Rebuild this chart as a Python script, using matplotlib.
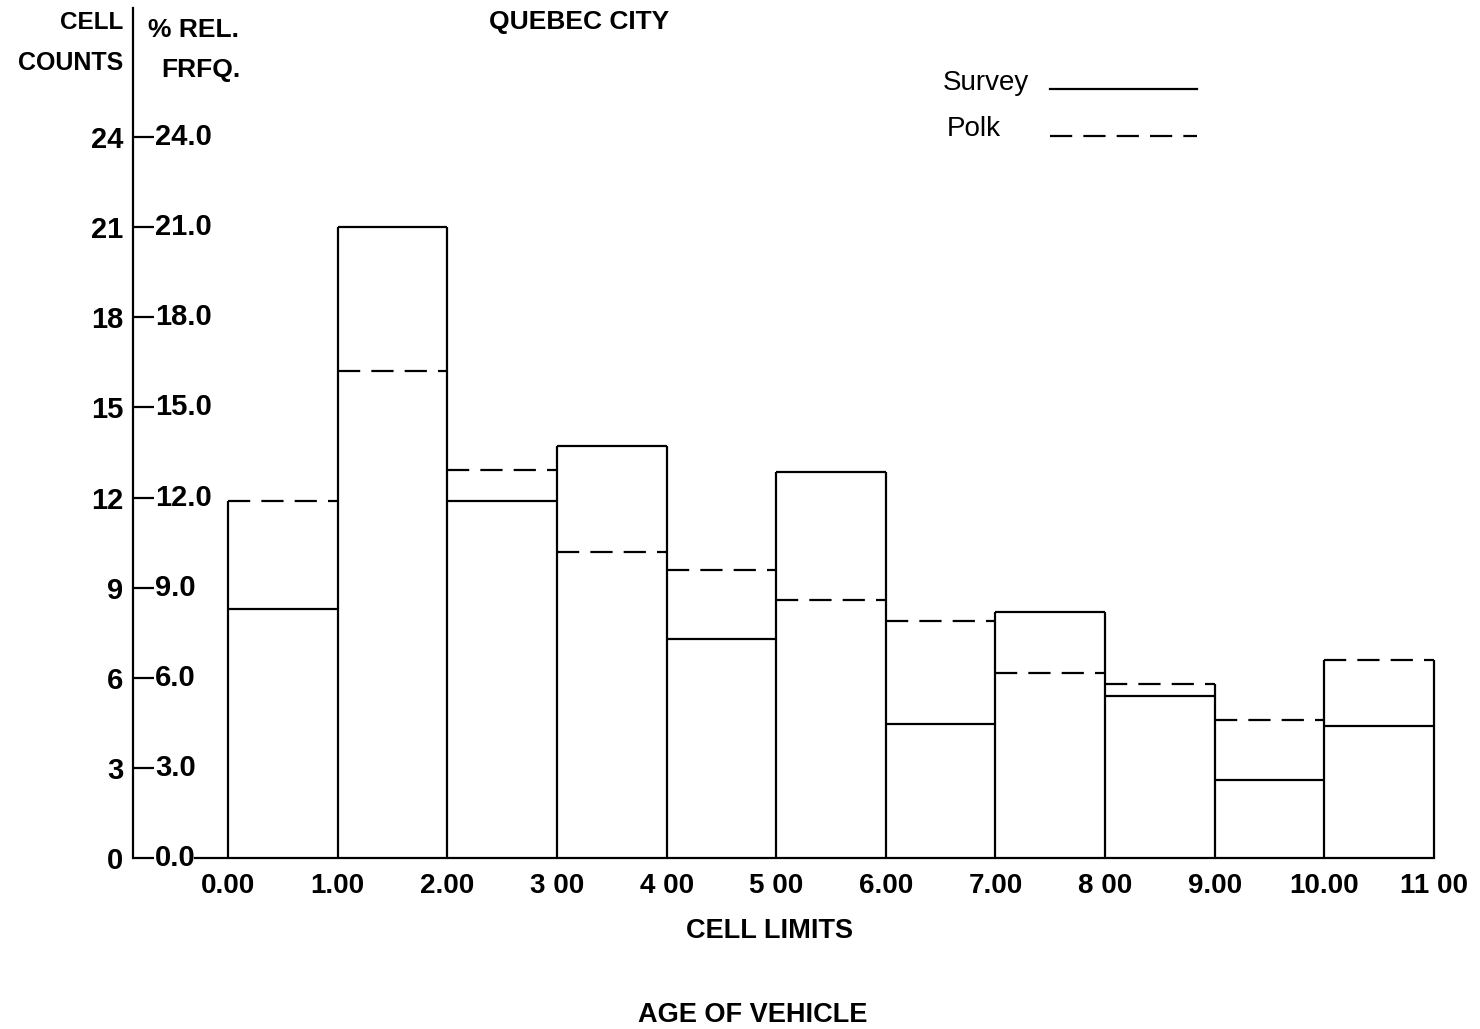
import matplotlib
matplotlib.use("Agg")
import matplotlib.pyplot as plt
import numpy as np

plt.rcParams['font.family'] = ['Liberation Sans', 'DejaVu Sans']

# ---- data ----
edges = list(range(0, 12))
survey = [8.3, 21.0, 11.9, 13.7, 7.3, 12.85, 4.45, 8.2, 5.4, 2.6, 4.4]
polk = [11.9, 16.2, 12.9, 10.2, 9.6, 8.6, 7.9, 6.15, 5.8, 4.6, 6.6]
count_ticks = [0, 3, 6, 9, 12, 15, 18, 21, 24]
count_labels = ["0", "3", "6", "9", "12", "15", "18", "21", "24"]
pct_labels = ["0.0", "3.0", "6.0", "9.0", "12.0", "15.0", "18.0", "21.0", "24.0"]
x_ticks = list(range(0, 12))
x_labels = ["0.00", "1.00", "2.00", "3 00", "4 00", "5 00", "6.00", "7.00",
            "8 00", "9.00", "10.00", "11 00"]

W, H = 1480, 1029
fig = plt.figure(figsize=(W / 100, H / 100), dpi=100)
fig.patch.set_facecolor('white')

# axes geometry in pixels
ax_l, ax_r, ax_b, ax_t = 133, 1434, 858, 8
ax = fig.add_axes([ax_l / W, 1 - ax_b / H, (ax_r - ax_l) / W, (ax_b - ax_t) / H])
px_per_x = 109.6
x0_px = 228
xmin = (ax_l - x0_px) / px_per_x
ax.set_xlim(xmin, 11)
ax.set_ylim(0, (ax_b - ax_t) / 30.04)
ax.patch.set_alpha(0)

lw = 1.6
dash = (0, (10, 5))
# survey horizontals (solid) and polk horizontals (dashed)
for i in range(len(survey)):
    ax.hlines(survey[i], edges[i], edges[i + 1], colors='black', lw=lw, clip_on=False)
    ax.hlines(polk[i], edges[i], edges[i + 1], colors='black', lw=lw,
              linestyles=dash, clip_on=False)
# vertical edges (solid) up to the highest adjacent value
for j, e in enumerate(edges):
    vals = []
    if j - 1 >= 0:
        vals += [survey[j - 1], polk[j - 1]]
    if j < len(survey):
        vals += [survey[j], polk[j]]
    ax.vlines(e, 0, max(vals), colors='black', lw=lw, clip_on=False)

# spines
for s in ['top', 'right']:
    ax.spines[s].set_visible(False)
ax.spines['left'].set_linewidth(1.6)
ax.spines['bottom'].set_linewidth(1.6)
ax.spines['bottom'].set_bounds((195 - x0_px) / px_per_x, 11)

# y ticks: count labels left, pct labels right of spine
ax.set_yticks(count_ticks)
ax.set_yticklabels(count_labels, fontsize=21, fontweight='bold')
ax.tick_params(axis='y', direction='in', length=15, width=1.6, pad=7)
ytr = ax.get_yaxis_transform()
for v, lab in zip(count_ticks, pct_labels):
    ax.text((155 - ax_l) / (ax_r - ax_l), v, lab, transform=ytr, ha='left',
            va='center', fontsize=21, fontweight='bold')

# x ticks
ax.set_xticks(x_ticks)
ax.set_xticklabels(x_labels, fontsize=20, fontweight='bold')
ax.tick_params(axis='x', direction='in', length=6, width=1.2, pad=11)

# header texts
def ftext(x, y, s, **kw):
    fig.text(x / W, 1 - y / H, s, **kw)

ftext(123, 22, "CELL", ha='right', va='center', fontsize=17.5, fontweight='bold')
ftext(123, 63, "COUNTS", ha='right', va='center', fontsize=18, fontweight='bold')
ftext(148, 30, "% REL.", ha='left', va='center', fontsize=19, fontweight='bold')
ftext(161, 70, "FRFQ.", ha='left', va='center', fontsize=19, fontweight='bold')
ftext(579, 22, "QUEBEC CITY", ha='center', va='center', fontsize=19, fontweight='bold')
ftext(943, 83, "Survey", ha='left', va='center', fontsize=20)
ftext(947, 129, "Polk", ha='left', va='center', fontsize=20)
ftext(769, 931, "CELL LIMITS", ha='center', va='center', fontsize=19.5, fontweight='bold')
ftext(753, 1015, "AGE OF VEHICLE", ha='center', va='center', fontsize=19.5, fontweight='bold')

# legend sample lines
fig.add_artist(plt.Line2D([1050 / W, 1197 / W], [1 - 89 / H, 1 - 89 / H],
                          color='black', lw=lw))
fig.add_artist(plt.Line2D([1050 / W, 1197 / W], [1 - 136 / H, 1 - 136 / H],
                          color='black', lw=lw, linestyle=dash))

fig.savefig("out.png", dpi=100, facecolor='white')
